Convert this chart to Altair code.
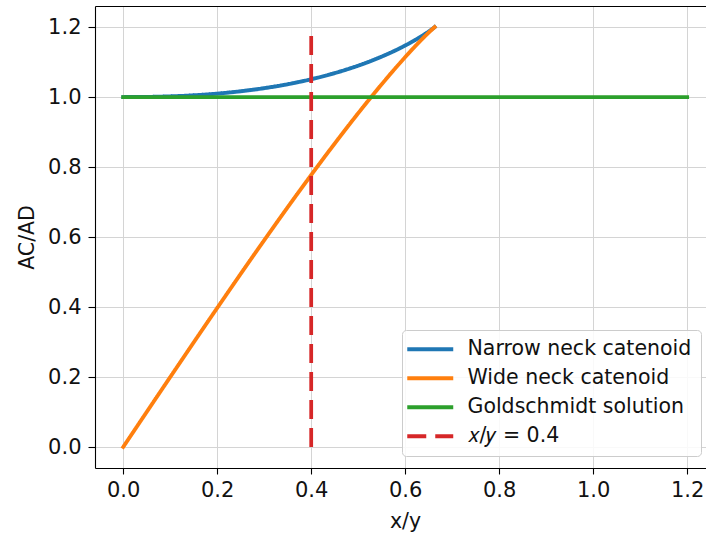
import altair as alt
import pandas as pd

# ---- data ----
series_labels = ["Narrow neck catenoid", "Wide neck catenoid", "Goldschmidt solution", "𝑥/𝑦 = 0.4"]
series_colors = ["#1f77b4", "#ff7f0e", "#2ca02c", "#d62728"]
series_dashes = [[1, 0], [1, 0], [1, 0], [19, 9]]

narrow_x = [0.0, 0.0054, 0.0297, 0.0674, 0.1000, 0.1465, 0.2112, 0.2980, 0.3502,
            0.4077, 0.4691, 0.5316, 0.5904, 0.6377, 0.6509, 0.6596, 0.6627]
narrow_y = [1.0, 1.0000, 1.0001, 1.0008, 1.0020, 1.0047, 1.0109, 1.0247, 1.0365,
            1.0531, 1.0758, 1.1053, 1.1405, 1.1762, 1.1880, 1.1964, 1.1997]

wide_x = [0.0, 0.0995, 0.1961, 0.2870, 0.3700, 0.4434, 0.5061, 0.5577, 0.5982,
          0.6280, 0.6481, 0.6593, 0.6627]
wide_y = [0.0, 0.1987, 0.3896, 0.5659, 0.7222, 0.8553, 0.9640, 1.0487, 1.1113,
          1.1545, 1.1816, 1.1956, 1.1997]

gold_x = [0.0, 1.2]
gold_y = [1.0, 1.0]

vline_x = [0.4]
vline_y0 = [0.0]
vline_y1 = [1.2]

tick_values = [0.0, 0.2, 0.4, 0.6, 0.8, 1.0, 1.2]

# ---- tables ----
lines_df = pd.concat([
    pd.DataFrame({"series": series_labels[0], "x": narrow_x, "y": narrow_y}),
    pd.DataFrame({"series": series_labels[1], "x": wide_x, "y": wide_y}),
    pd.DataFrame({"series": series_labels[2], "x": gold_x, "y": gold_y}),
], ignore_index=True)
rule_df = pd.DataFrame({"series": [series_labels[3]], "x": vline_x, "y": vline_y0, "y2": vline_y1})

FONT = "DejaVu Sans"
xscale = alt.Scale(domain=[-0.06, 1.24], nice=False, zero=False)
yscale = alt.Scale(domain=[-0.06, 1.26], nice=False, zero=False)

color_enc = alt.Color("series:N", title=None,
                      scale=alt.Scale(domain=series_labels, range=series_colors))
dash_enc = alt.StrokeDash("series:N", title=None,
                          scale=alt.Scale(domain=series_labels, range=series_dashes))

x_axis = alt.Axis(values=tick_values, format=".1f", title="x/y", titleX=310,
                  tickSize=6, labelPadding=5, titlePadding=11)
y_axis = alt.Axis(values=tick_values, format=".1f", title="AC/AD",
                  tickSize=7, labelPadding=7, titlePadding=10)

lines = alt.Chart(lines_df).mark_line(strokeWidth=3.75, strokeCap="square",
                                      interpolate="monotone").encode(
    x=alt.X("x:Q", scale=xscale, axis=x_axis),
    y=alt.Y("y:Q", scale=yscale, axis=y_axis),
    color=color_enc,
    strokeDash=dash_enc,
    detail="series:N",
)

rule = alt.Chart(rule_df).mark_rule(strokeWidth=3.75, strokeCap="butt").encode(
    x=alt.X("x:Q", scale=xscale,
            axis=alt.Axis(orient="top", labels=False, ticks=False, grid=False,
                          title=None, domain=True)),
    y=alt.Y("y:Q", scale=yscale),
    y2="y2:Q",
    color=color_enc,
    strokeDash=dash_enc,
)

chart = alt.layer(lines, rule).resolve_axis(x="independent").properties(
    width=611, height=462,
    autosize=alt.AutoSizeParams(type="none"),
    padding={"left": 95, "top": 6, "right": 0, "bottom": 68},
).configure_view(stroke=None).configure_axis(
    labelFont=FONT, titleFont=FONT, labelFontSize=21, titleFontSize=20.5,
    labelColor="#111111", titleColor="#111111", titleFontWeight="normal",
    domainColor="#000000", domainWidth=1.1, tickColor="#000000", tickWidth=1.1,
    grid=True, gridColor="#d4d4d4", gridWidth=1,
).configure_legend(
    orient="none", legendX=307, legendY=324,
    labelFont=FONT, labelFontSize=20.5, labelColor="#111111",
    symbolType="M-5,0H5", symbolSize=84.6, symbolStrokeWidth=4,
    symbolOffset=9, labelOffset=27, padding=9, rowPadding=8,
    fillColor="rgba(255,255,255,0.85)", strokeColor="#cccccc", cornerRadius=4,
    labelLimit=400,
)

chart.save("out.html", embed_options={"renderer": "svg", "actions": False})
